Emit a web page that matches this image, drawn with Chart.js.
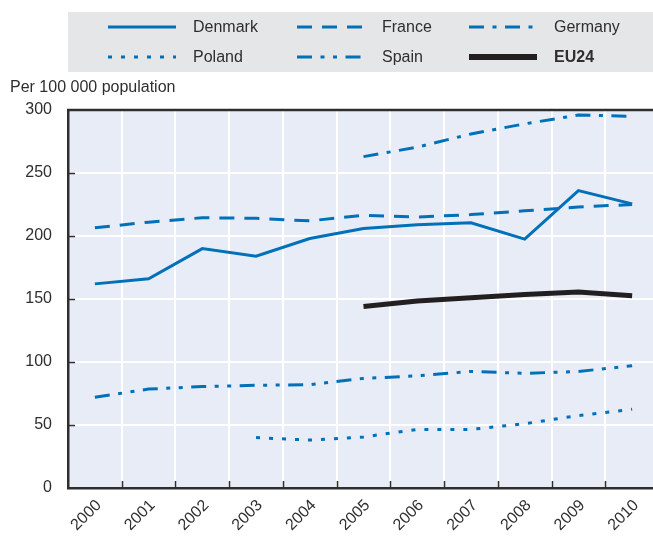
<!DOCTYPE html>
<html>
<head>
<meta charset="utf-8">
<script src="https://cdn.jsdelivr.net/npm/chart.js@4/dist/chart.umd.min.js"></script>
<style>
  html, body { margin: 0; padding: 0; background: #ffffff; overflow: hidden; }
  #wrap { width: 653px; height: 537px; overflow: hidden; }
  canvas { display: block; }
</style>
</head>
<body>
<div id="wrap"><canvas id="chart" width="662" height="537"></canvas></div>
<script>
// Years on the horizontal axis
const years = ['2000', '2001', '2002', '2003', '2004', '2005', '2006', '2007', '2008', '2009', '2010'];

// Rates per 100 000 population
const denmark = [162, 166, 190, 184, 198, 206, 209, 210.5, 197.5, 236, 225.5];
const france  = [206.5, 211, 214.5, 214, 212, 216.5, 215, 217, 220, 223, 225];
const germany = [null, null, null, null, null, 263, 270.5, 281, 289, 296, 295];
const poland  = [null, null, null, 40, 38, 40.5, 46.5, 46.5, 51, 57.5, 62.5];
const spain   = [72, 78.5, 80.5, 81.5, 82, 87, 89, 92.5, 91, 92.5, 97];
const eu24    = [null, null, null, null, null, 144, 148.5, 151, 153.5, 155.5, 152.5];

const yAxisTitle = 'Per 100 000 population';

const BLUE = '#0070b9';
const INK = '#2e2e2e';
const FONT = '"Liberation Sans", Arial, sans-serif';

function series(label, data, color, width, dash, bold) {
  return {
    label, data,
    borderColor: color, backgroundColor: color,
    borderWidth: width, borderDash: dash,
    borderCapStyle: 'butt', borderJoinStyle: 'miter',
    pointRadius: 0, pointHoverRadius: 0,
    tension: 0, fill: false, spanGaps: false,
    boldLabel: !!bold
  };
}

// Background, legend panel, axis caption, inner tick marks and top frame line
const framePlugin = {
  id: 'frame',
  beforeDraw(chart) {
    const { ctx, chartArea: a, width } = chart;
    ctx.save();
    ctx.fillStyle = '#ffffff';
    ctx.fillRect(0, 0, width, chart.height);
    ctx.fillStyle = '#e8ecf6';
    ctx.fillRect(a.left, a.top, a.right - a.left, a.bottom - a.top);

    // legend panel
    ctx.fillStyle = '#e5e6e8';
    ctx.fillRect(68, 12, width - 68, 60);
    const colX = [108, 297, 469];
    const rowY = [27, 57];
    const lineLen = 68;
    chart.data.datasets.forEach((ds, i) => {
      const x = colX[i % 3], y = rowY[Math.floor(i / 3)];
      ctx.beginPath();
      ctx.setLineDash(ds.borderDash || []);
      ctx.lineCap = 'butt';
      ctx.strokeStyle = ds.borderColor;
      ctx.lineWidth = ds.boldLabel ? 6 : 3;
      ctx.moveTo(x, y);
      ctx.lineTo(x + lineLen, y);
      ctx.stroke();
      ctx.setLineDash([]);
      ctx.fillStyle = INK;
      ctx.font = (ds.boldLabel ? 'bold ' : '') + '16px ' + FONT;
      ctx.textAlign = 'left';
      ctx.textBaseline = 'middle';
      ctx.fillText(ds.label, x + lineLen + 17, y + 1);
    });

    // axis caption
    ctx.fillStyle = INK;
    ctx.font = '16px ' + FONT;
    ctx.textAlign = 'left';
    ctx.textBaseline = 'middle';
    ctx.fillText(yAxisTitle, 10, 88);
    ctx.restore();
  },
  beforeDatasetsDraw(chart) {
    const { ctx, chartArea: a, scales } = chart;
    ctx.save();
    ctx.strokeStyle = INK;
    ctx.lineWidth = 1.5;
    // inward ticks on the value axis
    scales.y.ticks.forEach(t => {
      if (t.value <= 0 || t.value >= 300) return;
      const y = Math.round(scales.y.getPixelForValue(t.value)) + 0.5;
      ctx.beginPath();
      ctx.moveTo(a.left, y);
      ctx.lineTo(a.left + 7, y);
      ctx.stroke();
    });
    // inward ticks on the year axis, between categories
    for (let i = 1; i < years.length; i++) {
      const x = Math.round((scales.x.getPixelForValue(i - 1) + scales.x.getPixelForValue(i)) / 2) + 0.5;
      ctx.beginPath();
      ctx.moveTo(x, a.bottom);
      ctx.lineTo(x, a.bottom - 7);
      ctx.stroke();
    }
    // top frame line
    ctx.lineWidth = 2.5;
    ctx.beginPath();
    ctx.moveTo(a.left - 1, a.top);
    ctx.lineTo(a.right, a.top);
    ctx.stroke();
    ctx.restore();
  }
};

new Chart(document.getElementById('chart'), {
  type: 'line',
  data: {
    labels: years,
    datasets: [
      series('Denmark', denmark, BLUE, 3, []),
      series('France', france, BLUE, 3, [15, 10]),
      series('Germany', germany, BLUE, 3, [15, 8.5, 4, 8.5]),
      series('Poland', poland, BLUE, 3, [4, 9]),
      series('Spain', spain, BLUE, 3, [15, 8.5, 4, 8.5, 4, 8.5]),
      series('EU24', eu24, '#231f20', 5, [], true)
    ]
  },
  options: {
    responsive: false,
    animation: false,
    devicePixelRatio: 1,
    layout: { padding: { top: 110, right: 3, left: 0, bottom: 0 } },
    plugins: {
      legend: { display: false },
      title: { display: false },
      tooltip: { enabled: false }
    },
    scales: {
      x: {
        type: 'category',
        offset: true,
        grid: { display: true, offset: true, color: '#ffffff', lineWidth: 2, drawTicks: false },
        border: { display: true, color: INK, width: 2.5 },
        ticks: {
          color: INK, font: { family: FONT, size: 16 },
          maxRotation: 45, minRotation: 45, padding: 8, labelOffset: 4, autoSkip: false
        },
        afterFit(scale) { scale.height = 49; }
      },
      y: {
        min: 0, max: 300,
        grid: { color: '#ffffff', lineWidth: 2, drawTicks: false },
        border: { display: true, color: INK, width: 2.5 },
        ticks: {
          stepSize: 50, color: INK, font: { family: FONT, size: 16 }, padding: 16
        },
        afterFit(scale) { scale.width = 68; }
      }
    }
  },
  plugins: [framePlugin]
});
</script>
</body>
</html>
